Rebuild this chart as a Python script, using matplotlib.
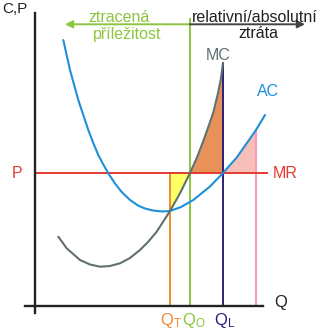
import matplotlib
matplotlib.use('Agg')
import matplotlib.pyplot as plt
import numpy as np

plt.rcParams['font.family'] = ['Liberation Sans', 'DejaVu Sans']

# curve points (x = quantity, y = cost/price)
ac_x = [28.3, 35, 43.3, 53.3, 58.3, 63.3, 68.3, 73.3, 80, 86.7, 95, 103.3, 110, 118, 127, 135,
        146, 158.3, 175, 188, 201.7, 221, 230]
ac_y = [266, 236, 206, 176, 163, 151, 141.5, 132.7, 122.5, 114, 106, 100.3, 97.5, 95.5, 94.5, 95,
        99, 106, 119.5, 133, 148.5, 176, 191]

mc_x = [23.3, 31.7, 45, 55, 65, 75, 85, 95, 105, 113, 121.7, 135, 145, 155, 162, 168.3, 174, 178.3,
        183.3, 186, 188]
mc_y = [69.3, 57.7, 46, 41.5, 39.3, 40, 42.7, 48, 56, 64, 74.3, 95, 112.7, 133, 148.5, 165, 181,
        193.5, 214, 228, 243]

P = 133
Q_T, Q_O, Q_L, Q_X = 135, 155, 188, 221

ac_x = np.array(ac_x); ac_y = np.array(ac_y)
mc_x = np.array(mc_x); mc_y = np.array(mc_y)

fig = plt.figure(figsize=(3.23, 3.30), dpi=100)
ax = fig.add_axes([0, 0, 1, 1])
ax.set_xlim(-35, 288)
ax.set_ylim(-24, 306)
ax.axis('off')

# shaded areas
m = (mc_x >= Q_T) & (mc_x <= Q_O)
ax.fill_between(mc_x[m], mc_y[m], P, color='#ffff66', lw=0)
m = (mc_x >= Q_O) & (mc_x <= Q_L)
ax.fill_between(mc_x[m], P, mc_y[m], color='#e8925a', lw=0)
m = (ac_x >= Q_L) & (ac_x <= Q_X)
ax.fill_between(ac_x[m], P, ac_y[m], color='#f7bfb8', lw=0)

# vertical lines
ax.plot([Q_T, Q_T], [0, P], color='#f08a30', lw=1.4)
ax.plot([Q_O, Q_O], [0, 287], color='#8cc63f', lw=1.4)
ax.plot([Q_L, Q_L], [0, 243], color='#2e1f7a', lw=1.4)
ax.plot([Q_X, Q_X], [0, 176], color='#f49ab8', lw=1.4)

# MR / P line
ax.plot([0, 232], [P, P], color='#e53a30', lw=1.4)

# curves
ax.plot(ac_x, ac_y, color='#1e8fd8', lw=1.5, solid_capstyle='round')
ax.plot(mc_x, mc_y, color='#5f7070', lw=1.5, solid_capstyle='round')

# axes
ax.plot([0, 0], [-7, 293], color='#222222', lw=1.7)
ax.plot([-10, 228], [0, 0], color='#222222', lw=1.7)

# arrows on top
ax.annotate('', xy=(30, 281.7), xytext=(Q_O, 281.7),
            arrowprops=dict(arrowstyle='-|>', color='#8cc63f', lw=1.4,
                            mutation_scale=11, shrinkA=0, shrinkB=0))
ax.annotate('', xy=(270, 281.7), xytext=(Q_O, 281.7),
            arrowprops=dict(arrowstyle='-|>', color='#444444', lw=1.4,
                            mutation_scale=11, shrinkA=0, shrinkB=0))

fs = 11.5
ax.text(84, 284.3, 'ztracená', color='#8cc63f', fontsize=fs, ha='center', va='baseline')
ax.text(91.7, 267.5, 'příležitost', color='#8cc63f', fontsize=fs, ha='center', va='baseline')
ax.text(219.5, 284.3, 'relativní/absolutní', color='#222222', fontsize=fs, ha='center', va='baseline')
ax.text(223, 267.5, 'ztráta', color='#222222', fontsize=fs, ha='center', va='baseline')

ax.text(-20, 297, 'C,P', color='#222222', fontsize=11, ha='center', va='center')
ax.text(-18, 133, 'P', color='#e53a30', fontsize=11.5, ha='center', va='center')
ax.text(250, 133, 'MR', color='#e53a30', fontsize=11.5, ha='center', va='center')
ax.text(183, 251, 'MC', color='#5f7070', fontsize=11.5, ha='center', va='center')
ax.text(233.5, 215, 'AC', color='#1e8fd8', fontsize=11.5, ha='center', va='center')
ax.text(246, 3, 'Q', color='#222222', fontsize=12, ha='center', va='center')

ax.text(Q_T + 1, -14, r'$\mathregular{Q_T}$', color='#f08a30', fontsize=12, ha='center', va='center')
ax.text(Q_O + 4, -14, r'$\mathregular{Q_O}$', color='#8cc63f', fontsize=12, ha='center', va='center')
ax.text(Q_L + 1.5, -14, r'$\mathregular{Q_L}$', color='#2e1f7a', fontsize=12, ha='center', va='center')

fig.savefig('out.png', dpi=100)
